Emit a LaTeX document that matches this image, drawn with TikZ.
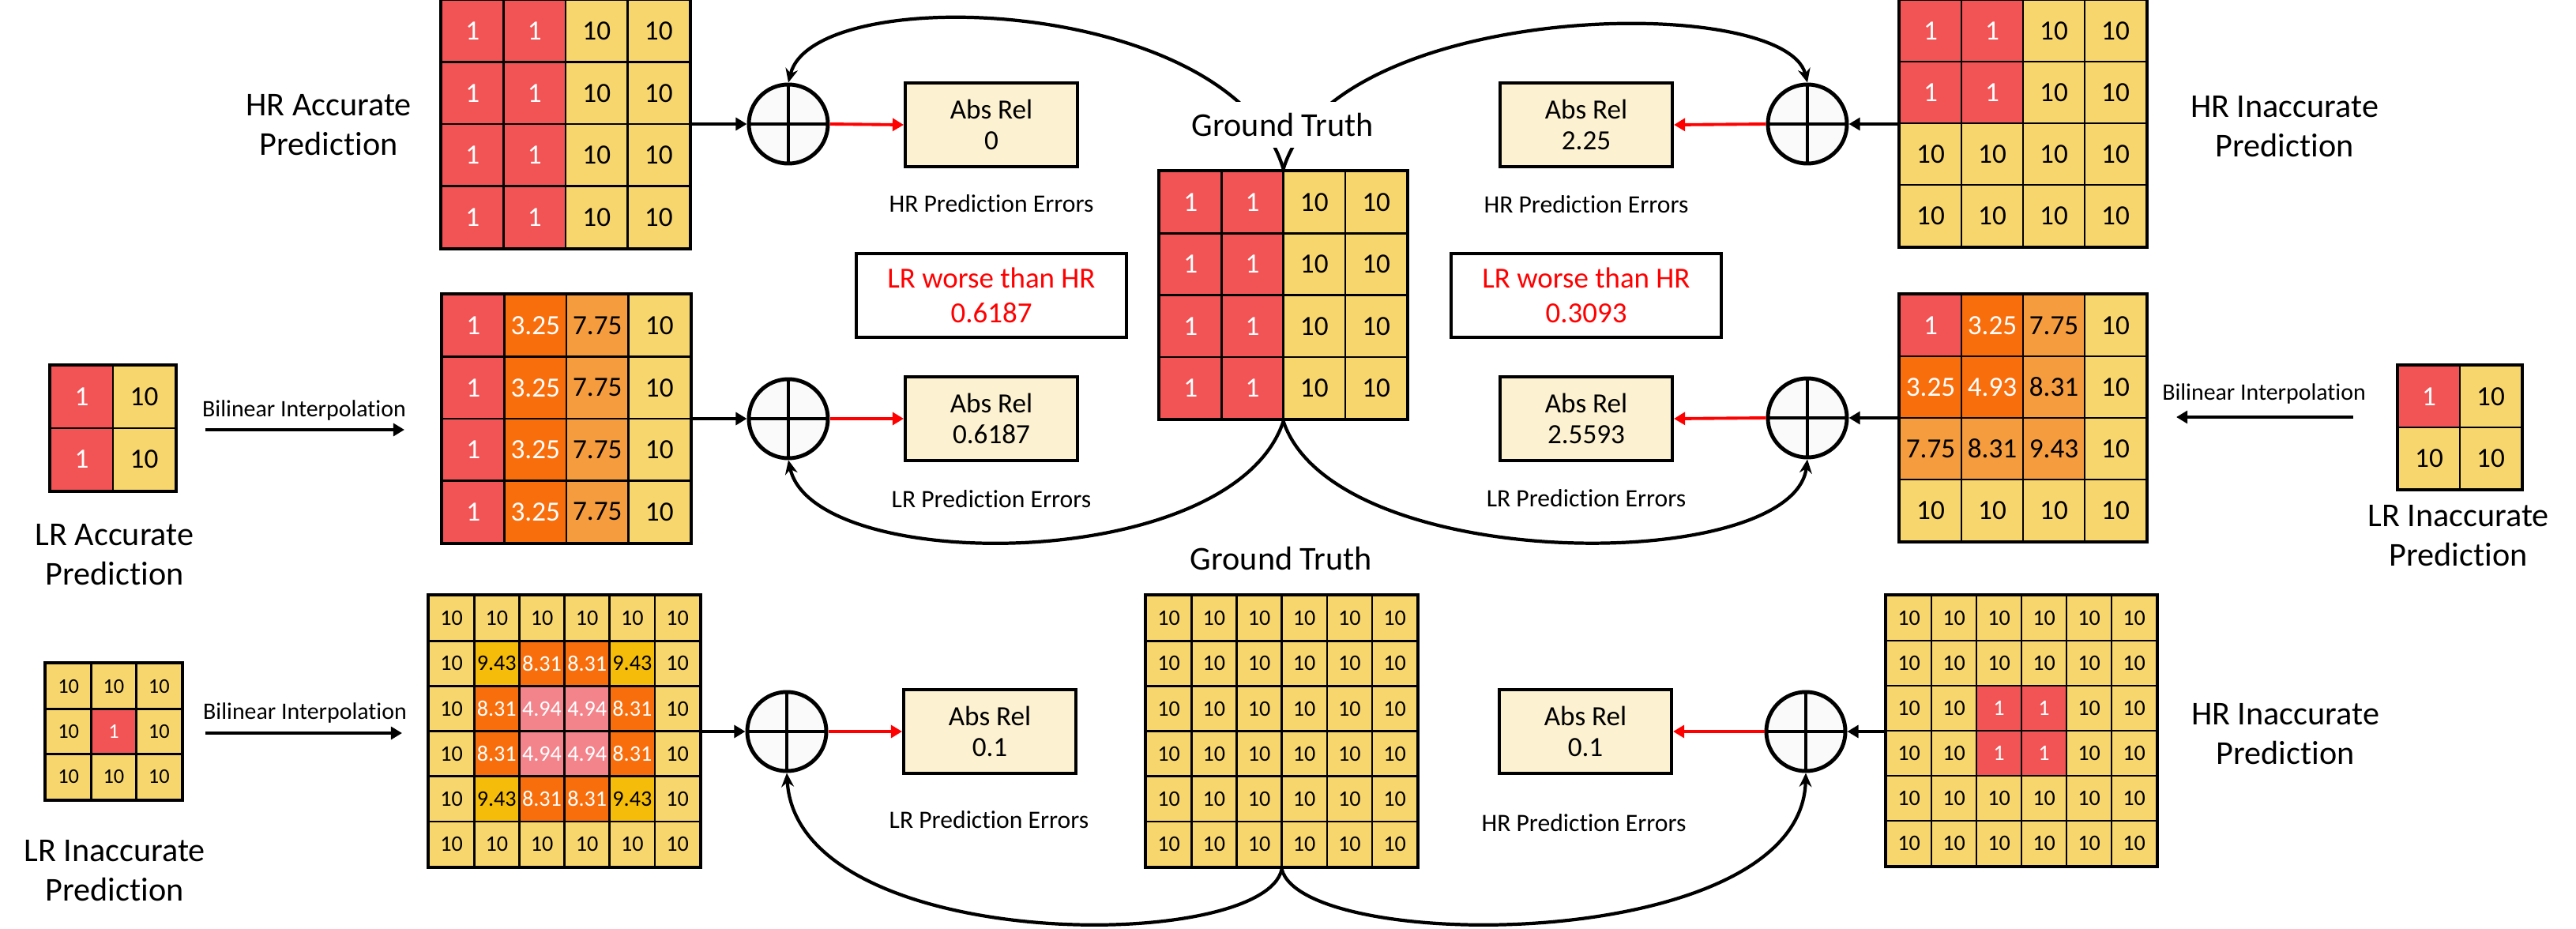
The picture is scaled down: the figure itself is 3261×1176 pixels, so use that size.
\documentclass[tikz,border=0pt]{standalone}
\usepackage{fontspec}
\setmainfont{Carlito}[Ligatures=NoCommon]
\usepackage{tikz}
\usetikzlibrary{positioning}
\usetikzlibrary{arrows.meta}
\usetikzlibrary{fit}

\definecolor{cR}{RGB}{242,84,86}
\definecolor{cO}{RGB}{249,110,12}
\definecolor{cM}{RGB}{244,156,62}
\definecolor{cY}{RGB}{248,214,110}
\definecolor{cG}{RGB}{245,188,10}
\definecolor{cP}{RGB}{244,132,140}
\definecolor{cream}{RGB}{252,241,208}
\colorlet{tcR}{white}
\colorlet{tcO}{white}
\colorlet{tcP}{white}
\colorlet{tcM}{black}
\colorlet{tcY}{black}
\colorlet{tcG}{black}

\newcommand{\bigcell}{\fontsize{10}{12}\selectfont}
\newcommand{\smallcell}{\fontsize{8}{9.6}\selectfont}
\newcommand{\tinycell}{\fontsize{7.5}{9}\selectfont}

% name, x0, y0, cell size, n, font, rows
\newcommand{\heatgrid}[7]{%
  \foreach \row [count=\ri] in {#7}{%
    \foreach \val/\cl [count=\ci] in \row{%
      \node[cell, fill=\cl, text=t\cl, font=#6, minimum size=#4*0.01cm] (#1-\ri-\ci) at ({#2+(\ci-0.5)*#4},{#3+(\ri-0.5)*#4}) {\val};
    }
  }
  \node[frame, fit=(#1-1-1)(#1-#5-#5)] (#1) {};
}

\begin{document}
\begin{tikzpicture}[
    x=0.01cm, y=-0.01cm,
    cell/.style={rectangle, draw=black, line width=0.75pt, inner sep=0pt},
    frame/.style={rectangle, draw=black, line width=1pt, inner sep=0pt},
    plus/.style={circle, draw=black, line width=1.4pt, fill=white!98!black, minimum size=1cm, inner sep=0pt,
        path picture={\draw[line width=0.9pt] (path picture bounding box.north) -- (path picture bounding box.south)
            (path picture bounding box.west) -- (path picture bounding box.east);}},
    err/.style={rectangle, draw=black, line width=1.1pt, fill=cream, minimum width=2.18cm, minimum height=1.06cm, align=center, font=\fontsize{10}{11}\selectfont},
    worse/.style={rectangle, draw=black, line width=1.1pt, fill=white, minimum width=3.41cm, minimum height=1.06cm, align=center, text=red, font=\fontsize{10.5}{12.5}\selectfont},
    lbl/.style={align=center, font=\fontsize{12}{14.2}\selectfont},
    errcap/.style={font=\fontsize{9}{11}\selectfont},
    bil/.style={font=\fontsize{8.5}{10}\selectfont, inner sep=0pt},
    arr/.style={-{Triangle[length=4pt,width=4.5pt]}, line width=1.1pt},
    rarr/.style={arr, draw=red},
    curve/.style={-{Stealth[length=5pt,width=4.5pt]}, line width=1.2pt}
]
\useasboundingbox (0,0) rectangle (3261,1176);

% grids
\heatgrid{hrA}{559}{0}{78.5}{4}{\bigcell}{{1/cR,1/cR,10/cY,10/cY},{1/cR,1/cR,10/cY,10/cY},{1/cR,1/cR,10/cY,10/cY},{1/cR,1/cR,10/cY,10/cY}}
\heatgrid{gtA}{1468}{217}{78.3}{4}{\bigcell}{{1/cR,1/cR,10/cY,10/cY},{1/cR,1/cR,10/cY,10/cY},{1/cR,1/cR,10/cY,10/cY},{1/cR,1/cR,10/cY,10/cY}}
\heatgrid{hrI}{2405}{0}{78}{4}{\bigcell}{{1/cR,1/cR,10/cY,10/cY},{1/cR,1/cR,10/cY,10/cY},{10/cY,10/cY,10/cY,10/cY},{10/cY,10/cY,10/cY,10/cY}}
\heatgrid{upA}{560}{373}{78.5}{4}{\bigcell}{{1/cR,3.25/cO,7.75/cM,10/cY},{1/cR,3.25/cO,7.75/cM,10/cY},{1/cR,3.25/cO,7.75/cM,10/cY},{1/cR,3.25/cO,7.75/cM,10/cY}}
\heatgrid{upI}{2405}{373}{78}{4}{\bigcell}{{1/cR,3.25/cO,7.75/cM,10/cY},{3.25/cO,4.93/cO,8.31/cM,10/cY},{7.75/cM,8.31/cM,9.43/cM,10/cY},{10/cY,10/cY,10/cY,10/cY}}
\heatgrid{lrA}{64}{463}{79}{2}{\bigcell}{{1/cR,10/cY},{1/cR,10/cY}}
\heatgrid{lrI}{3036}{463}{78}{2}{\bigcell}{{1/cR,10/cY},{10/cY,10/cY}}
\heatgrid{lrS}{58}{840}{57.3}{3}{\tinycell}{{10/cY,10/cY,10/cY},{10/cY,1/cR,10/cY},{10/cY,10/cY,10/cY}}
\heatgrid{upS}{543}{754}{57.2}{6}{\smallcell}{{10/cY,10/cY,10/cY,10/cY,10/cY,10/cY},{10/cY,9.43/cG,8.31/cO,8.31/cO,9.43/cG,10/cY},{10/cY,8.31/cO,4.94/cP,4.94/cP,8.31/cO,10/cY},{10/cY,8.31/cO,4.94/cP,4.94/cP,8.31/cO,10/cY},{10/cY,9.43/cG,8.31/cO,8.31/cO,9.43/cG,10/cY},{10/cY,10/cY,10/cY,10/cY,10/cY,10/cY}}
\heatgrid{gtS}{1451}{754}{57.2}{6}{\smallcell}{{10/cY,10/cY,10/cY,10/cY,10/cY,10/cY},{10/cY,10/cY,10/cY,10/cY,10/cY,10/cY},{10/cY,10/cY,10/cY,10/cY,10/cY,10/cY},{10/cY,10/cY,10/cY,10/cY,10/cY,10/cY},{10/cY,10/cY,10/cY,10/cY,10/cY,10/cY},{10/cY,10/cY,10/cY,10/cY,10/cY,10/cY}}
\heatgrid{hrS}{2388}{754}{57}{6}{\smallcell}{{10/cY,10/cY,10/cY,10/cY,10/cY,10/cY},{10/cY,10/cY,10/cY,10/cY,10/cY,10/cY},{10/cY,10/cY,1/cR,1/cR,10/cY,10/cY},{10/cY,10/cY,1/cR,1/cR,10/cY,10/cY},{10/cY,10/cY,10/cY,10/cY,10/cY,10/cY},{10/cY,10/cY,10/cY,10/cY,10/cY,10/cY}}

% side labels
\node[lbl] (hrAlbl) at (416,158) {HR Accurate\\Prediction};
\node[lbl] (hrIlbl) at (2892,160) {HR Inaccurate\\Prediction};
\node[lbl] (lrAlbl) at (145,702) {LR Accurate\\Prediction};
\node[lbl] (lrIlbl) at (3112,678) {LR Inaccurate\\Prediction};
\node[lbl] (lrSlbl) at (145,1102) {LR Inaccurate\\Prediction};
\node[lbl] (hrSlbl) at (2893,929) {HR Inaccurate\\Prediction};
\node[lbl] (gtSlbl) at (1622,707) {Ground Truth};

% bilinear interpolation
\node[bil] (bilA) at (385,520) {Bilinear Interpolation};
\coordinate (bilAs) at (260,544);
\coordinate (bilAe) at (512,544);
\node[bil] (bilI) at (2866,499) {Bilinear Interpolation};
\coordinate (bilIs) at (2979,528);
\coordinate (bilIe) at (2755,528);
\node[bil] (bilS) at (386,903) {Bilinear Interpolation};
\coordinate (bilSs) at (260,928);
\coordinate (bilSe) at (509,928);
\draw[arr] (bilAs) -- (bilAe);
\draw[arr] (bilIs) -- (bilIe);
\draw[arr] (bilSs) -- (bilSe);

% comparison
\node[plus] (c1) at (998,157) {};
\node[plus] (c2) at (998,530) {};
\node[plus] (c3) at (996,926) {};
\node[plus] (c4) at (2288,157) {};
\node[plus] (c5) at (2288,529) {};
\node[plus] (c6) at (2286,926) {};

\node[err] (e1) at (1255,158) {Abs Rel\\0};
\node[err] (e2) at (1255,530) {Abs Rel\\0.6187};
\node[err] (e3) at (1253,926) {Abs Rel\\0.1};
\node[err] (e4) at (2008,158) {Abs Rel\\2.25};
\node[err] (e5) at (2008,530) {Abs Rel\\2.5593};
\node[err] (e6) at (2007,926) {Abs Rel\\0.1};

\node[errcap] (e1cap) at (1255,258) {HR Prediction Errors};
\node[errcap] (e2cap) at (1255,632) {LR Prediction Errors};
\node[errcap] (e3cap) at (1252,1038) {LR Prediction Errors};
\node[errcap] (e4cap) at (2008,259) {HR Prediction Errors};
\node[errcap] (e5cap) at (2008,631) {LR Prediction Errors};
\node[errcap] (e6cap) at (2005,1042) {HR Prediction Errors};

\node[worse] (w1) at (1255,374) {LR worse than HR\\0.6187};
\node[worse] (w2) at (2008,374) {LR worse than HR\\0.3093};

\draw[arr] (hrA.east) -- (c1.west);
\draw[arr] (upA.east) -- (c2.west);
\draw[arr] (upS.east |- c3.west) -- (c3.west);
\draw[arr] (hrI.west |- c4.east) -- (c4.east);
\draw[arr] (upI.west |- c5.east) -- (c5.east);
\draw[arr] (hrS.west |- c6.east) -- (c6.east);
\draw[rarr] (c1.east) -- (e1.west);
\draw[rarr] (c2.east) -- (e2.west);
\draw[rarr] (c3.east) -- (e3.west);
\draw[rarr] (c4.west) -- (e4.east);
\draw[rarr] (c5.west) -- (e5.east);
\draw[rarr] (c6.west) -- (e6.east);

% ground truth curves
\draw[curve] (gtA.north) .. controls (1560,-5) and (1030,-25) .. (c1.north);
\draw[curve] (gtA.north) .. controls (1690,0) and (2260,-10) .. (c4.north);
\draw[curve] (gtA.south) .. controls (1560,728) and (1030,728) .. (c2.south);
\draw[curve] (gtA.south) .. controls (1690,728) and (2270,728) .. (c5.south);
\draw[curve] (gtS.south) .. controls (1600,1208) and (1010,1208) .. (c3.south);
\draw[curve] (gtS.south) .. controls (1650,1208) and (2280,1208) .. (c6.south);

\node[lbl, fill=white, inner sep=4pt] (gtAlbl) at (1624,158) {Ground Truth};

\end{tikzpicture}
\end{document}
